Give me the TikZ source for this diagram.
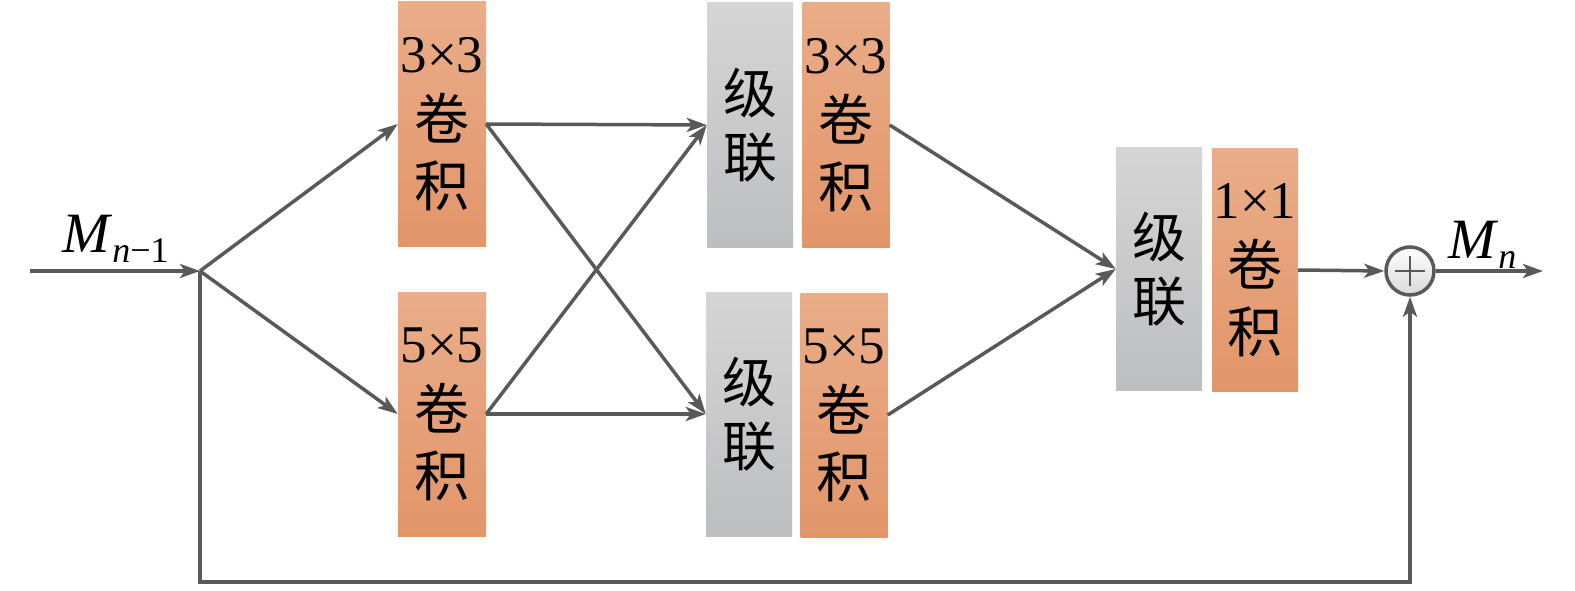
\documentclass[tikz,border=0pt]{standalone}
\usepackage{fontspec}
\setmainfont{Liberation Serif}
\newfontfamily\cjk{Noto Sans CJK SC}
\usetikzlibrary{arrows.meta}
\definecolor{linec}{HTML}{595959}
\definecolor{orTop}{HTML}{E9AD88}
\definecolor{orBot}{HTML}{E3956A}
\definecolor{grTop}{HTML}{D5D5D5}
\definecolor{grBot}{HTML}{BDBEC0}
\newcommand{\cj}[1]{{\fontsize{55}{67}\selectfont\cjk #1}}
\tikzset{
  convbox/.style={rectangle, minimum width=88pt, minimum height=244pt, inner sep=0pt,
    top color=orTop, bottom color=orBot, align=center,
    font=\fontsize{53}{67}\selectfont},
  catbox/.style={rectangle, minimum width=86pt, minimum height=244pt, inner sep=0pt,
    top color=grTop, bottom color=grBot, align=center,
    font=\fontsize{54}{64}\selectfont\cjk},
  conn/.style={draw=linec, line width=3.5pt},
  arr/.style={conn, -{Stealth[length=20pt,width=14pt,inset=5pt]}},
  lab/.style={inner sep=0pt, font=\fontsize{57}{60}\selectfont}
}
\begin{document}
\begin{tikzpicture}[x=1pt,y=-1pt]
\useasboundingbox (0,0) rectangle (1575,591);
% boxes
\node[convbox] (c1) at (442,124) {3×3\\\cj{卷}\\\cj{积}};
\node[convbox] (c2) at (442,414) {5×5\\\cj{卷}\\\cj{积}};
\node[catbox] (g1) at (750,125) {级\\联};
\node[convbox, minimum width=87pt] (o3) at (846,125) {3×3\\\cj{卷}\\\cj{积}};
\node[catbox] (g2) at (749,414) {级\\联};
\node[convbox, minimum width=87pt] (o4) at (844,415) {5×5\\\cj{卷}\\\cj{积}};
\node[catbox, minimum height=243pt] (g3) at (1159,269) {级\\联};
\node[convbox, minimum width=86pt, minimum height=243pt] (o5) at (1255,270) {1×1\\\cj{卷}\\\cj{积}};
% sum node
\node[circle, minimum size=48pt, inner sep=0pt, draw=linec, line width=3.5pt,
  top color=white, bottom color=black!15] (sum) at (1410,271) {};
\draw[linec, line width=2.5pt] ([xshift=-15pt]sum.center) -- ([xshift=15pt]sum.center)
  ([yshift=-15pt]sum.center) -- ([yshift=15pt]sum.center);
% coordinates
\coordinate (s) at (30,271);
\coordinate (j) at (200,271);
\coordinate (e) at (1543,271);
\coordinate (b1) at (200,582);
\coordinate (b2) at (1410,582);
% labels
\node[lab, anchor=base west] (min) at (62,252) {\textit{M}\raisebox{-10pt}{\fontsize{36}{36}\selectfont\textit{n}−1}};
\node[lab, anchor=base west] (mout) at (1448,258) {\textit{M}\raisebox{-10pt}{\fontsize{36}{36}\selectfont\textit{n}}};
% connectors
\draw[arr] (s) -- (j);
\draw[arr] (j) -- (c1.west);
\draw[arr] (j) -- (c2.west);
\draw[arr] (c1.east) -- (g1.west);
\draw[arr] (c1.east) -- (g2.west);
\draw[arr] (c2.east) -- (g2.west);
\draw[arr] (c2.east) -- (g1.west);
\draw[arr] (o3.east) -- (g3.west);
\draw[arr] (o4.east) -- (g3.west);
\draw[arr] (o5.east) -- (sum.west);
\draw[arr] (sum.east) -- (e);
\draw[arr] (j) -- (b1) -- (b2) -- (sum.south);
\end{tikzpicture}
\end{document}
